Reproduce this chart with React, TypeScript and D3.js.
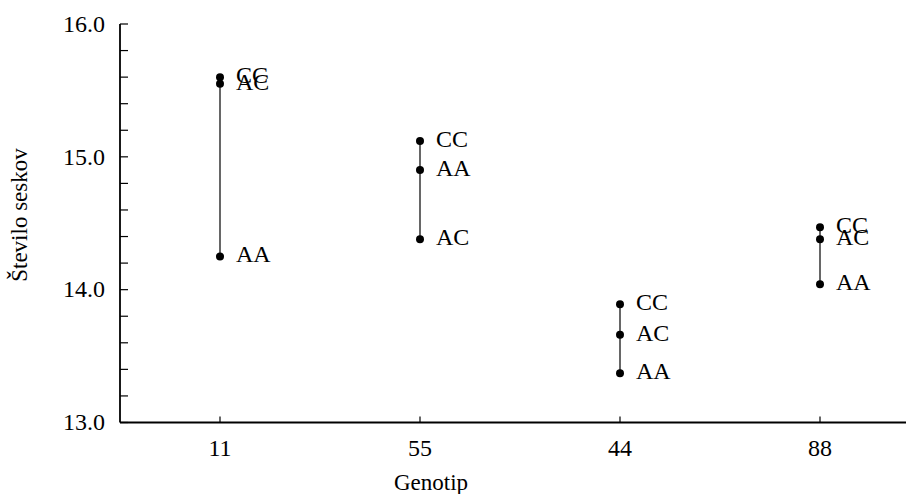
import React from "react";
import * as d3 from "d3";

const categories = ["11", "55", "44", "88"];
const seriesNames = ["CC", "AC", "AA"];
const ccValues = [15.6, 15.12, 13.89, 14.47];
const acValues = [15.55, 14.38, 13.66, 14.38];
const aaValues = [14.25, 14.9, 13.37, 14.04];
const majorTicks = [13, 14, 15, 16];
const minorTicks = d3.range(13, 16.001, 0.2);

const W = 906, H = 494;
const left = 120, top = 24, bottom = 422.5;
const font = "'Liberation Serif', 'Times New Roman', serif";

export default function App() {
  const x = d3.scalePoint<string>().domain(categories).range([120, 920]).padding(0.5);
  const y = d3.scaleLinear().domain([13, 16]).range([bottom, top]);
  const series = [ccValues, acValues, aaValues];
  return (
    <svg width={W} height={H} style={{ position: "absolute", left: 0, top: 0 }}>
      <rect width={W} height={H} fill="#fff" />
      <line x1={left} x2={left} y1={top} y2={bottom} stroke="#000" strokeWidth={1.8} />
      <line x1={left} x2={W} y1={bottom} y2={bottom} stroke="#000" strokeWidth={1.8} />
      {minorTicks.map((t, i) => (
        <line key={"m" + i} x1={left} x2={left + 8} y1={y(t)} y2={y(t)} stroke="#000" strokeWidth={1.2} />
      ))}
      {majorTicks.map((t) => (
        <text key={"l" + t} x={105} y={y(t)} dy="0.32em" textAnchor="end" fontFamily={font} fontSize={24}>
          {t.toFixed(1)}
        </text>
      ))}
      {categories.map((c) => (
        <g key={c}>
          <line x1={x(c)} x2={x(c)} y1={bottom} y2={bottom - 6} stroke="#000" strokeWidth={1.2} />
          <text x={x(c)} y={bottom + 33} textAnchor="middle" fontFamily={font} fontSize={24}>{c}</text>
        </g>
      ))}
      {categories.map((c, i) => {
        const vals = series.map((s) => s[i]);
        const cx = x(c)!;
        return (
          <g key={"d" + c}>
            <line x1={cx} x2={cx} y1={y(d3.max(vals)!)} y2={y(d3.min(vals)!)} stroke="#000" strokeWidth={1.2} />
            {vals.map((v, j) => (
              <g key={j}>
                <circle cx={cx} cy={y(v)} r={4} fill="#000" />
                <text x={cx + 16} y={y(v)} dy="0.25em" fontFamily={font} fontSize={24}>{seriesNames[j]}</text>
              </g>
            ))}
          </g>
        );
      })}
      <text x={431} y={490} textAnchor="middle" fontFamily={font} fontSize={23}>Genotip</text>
      <text transform={`translate(27,215) rotate(-90)`} textAnchor="middle" fontFamily={font} fontSize={23}>Število seskov</text>
    </svg>
  );
}
